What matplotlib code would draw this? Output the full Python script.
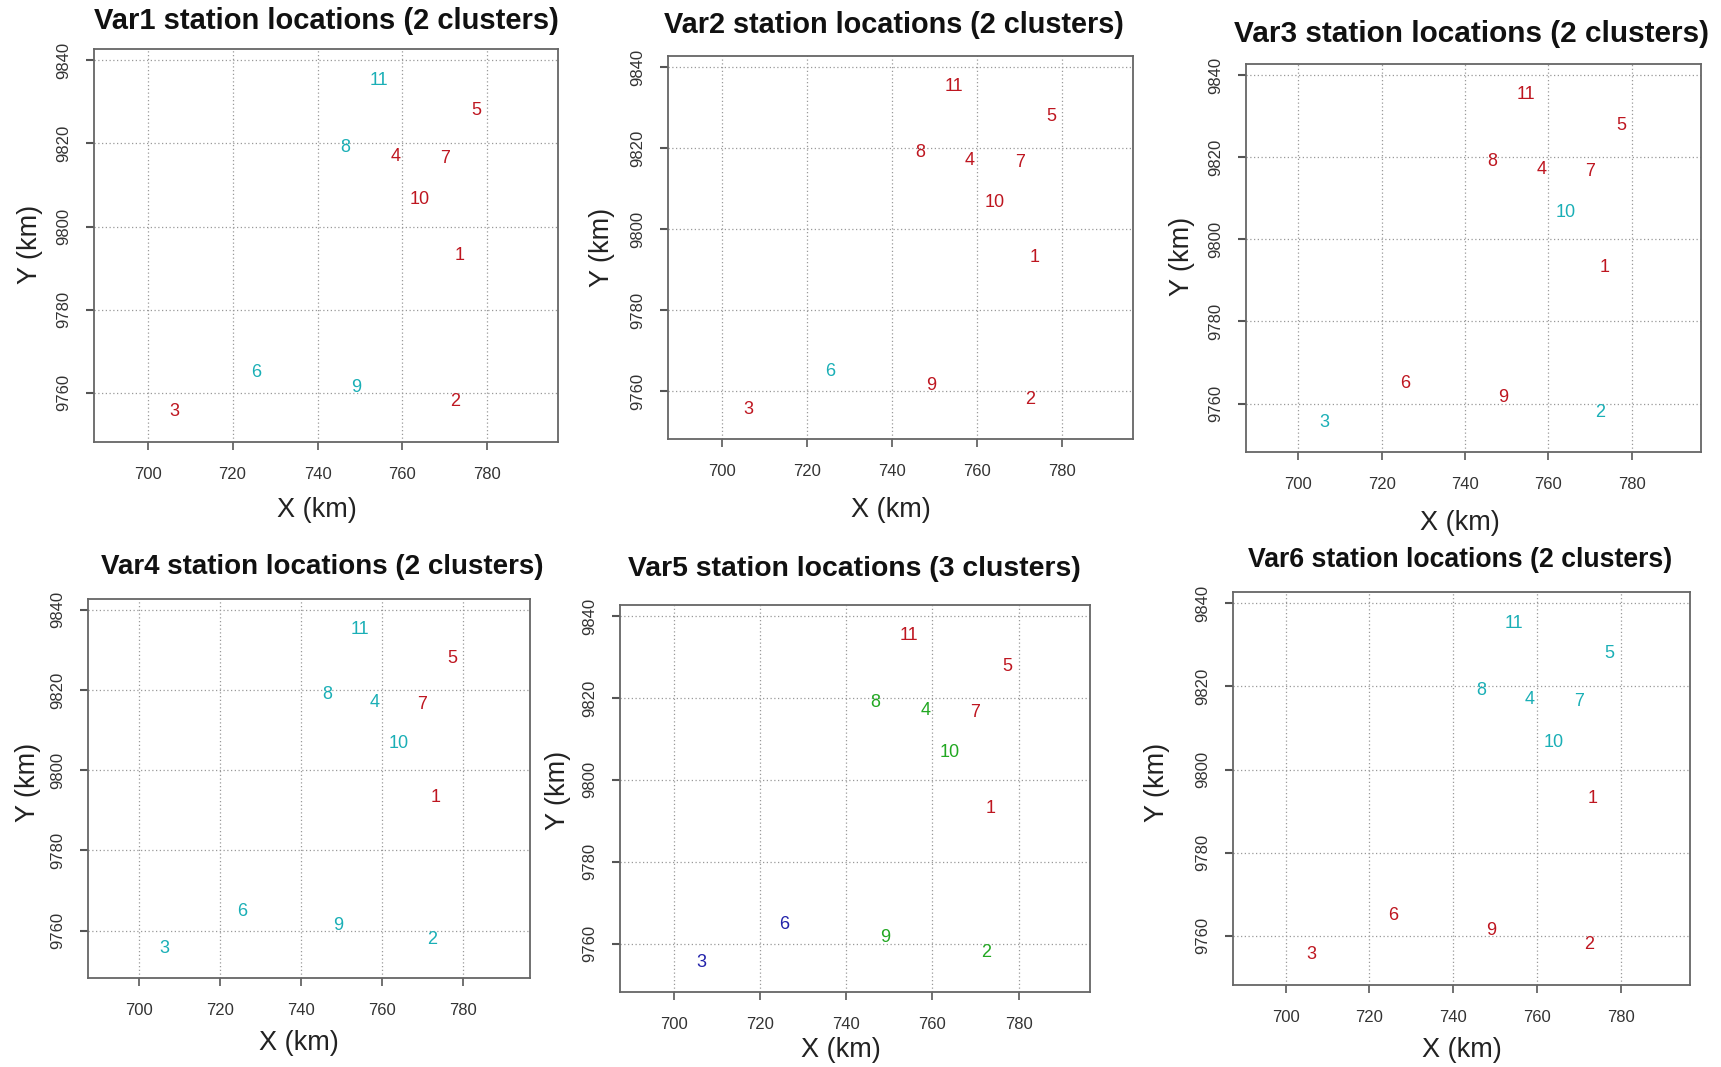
import matplotlib
matplotlib.use("Agg")
import matplotlib.pyplot as plt

plt.rcParams['font.family'] = ['Liberation Sans', 'DejaVu Sans']

# station coordinates (km)
stations = ['1', '2', '3', '4', '5', '6', '7', '8', '9', '10', '11']
x_km = [773.4, 772.4, 706.2, 758.3, 777.4, 725.6, 770.0, 746.6, 749.1, 764.1, 754.5]
y_km = [9793.1, 9757.9, 9755.5, 9816.9, 9827.8, 9764.8, 9816.4, 9818.9, 9761.4, 9806.6, 9835.2]

titles = ['Var1 station locations (2 clusters)', 'Var2 station locations (2 clusters)',
          'Var3 station locations (2 clusters)', 'Var4 station locations (2 clusters)',
          'Var5 station locations (3 clusters)', 'Var6 station locations (2 clusters)']

# cluster id per station (1 = red, 2 = cyan, 3 = green, 4 = blue)
var1 = [1, 1, 1, 1, 1, 2, 1, 2, 2, 1, 2]
var2 = [1, 1, 1, 1, 1, 2, 1, 1, 1, 1, 1]
var3 = [1, 2, 2, 1, 1, 1, 1, 1, 1, 2, 1]
var4 = [1, 2, 2, 2, 1, 2, 1, 2, 2, 2, 2]
var5 = [1, 3, 4, 3, 1, 4, 1, 3, 3, 3, 1]
var6 = [1, 1, 1, 2, 2, 1, 2, 2, 1, 2, 2]
clusters = [var1, var2, var3, var4, var5, var6]

xticks = [700, 720, 740, 760, 780]
yticks = [9760, 9780, 9800, 9820, 9840]

colors = {1: '#BE1620', 2: '#1AAFB6', 3: '#22A822', 4: '#2222AA'}

W, H = 1721, 1067
# axes boxes in pixels: left, top, right, bottom
boxes = [(94, 49, 558, 442),
         (668, 56, 1133, 439),
         (1246, 64, 1701, 452),
         (88, 599, 530, 978),
         (620, 605, 1090, 992),
         (1233, 592, 1690, 985)]
title_pos = [(326, 21), (894, 25), (1471, 34), (322, 567), (854, 569), (1460, 560)]
title_size = [21, 20.8, 21.4, 20, 20.4, 19.2]
xlab_pos = [(317, 510), (891, 510), (1460, 523), (299, 1043), (841, 1050), (1462, 1050)]
ylab_pos = [(30, 244), (602, 247), (1182, 256), (28, 782), (558, 790), (1157, 782)]

fig = plt.figure(figsize=(W / 100, H / 100), dpi=100)

for i in range(6):
    l, t, r, b = boxes[i]
    ax = fig.add_axes([l / W, 1 - b / H, (r - l) / W, (b - t) / H])
    ax.set_xlim(687.4, 796.6)
    ax.set_ylim(9748.2, 9842.7)
    ax.set_xticks(xticks)
    ax.set_yticks(yticks)
    ax.tick_params(axis='x', length=6, width=1.3, labelsize=12, colors='#666666',
                   labelcolor='#333333', pad=12)
    ax.tick_params(axis='y', length=6, width=1.5, labelsize=12, colors='#555555',
                   labelcolor='#333333', pad=10.5)
    for lab in ax.get_yticklabels():
        lab.set_rotation(90)
        lab.set_va('center')
    ax.grid(True, linestyle=(0, (1, 2)), color='#999999', linewidth=0.9)
    for s in ax.spines.values():
        s.set_color('#666666')
        s.set_linewidth(1.3)
    for name, xv, yv, c in zip(stations, x_km, y_km, clusters[i]):
        ax.text(xv, yv, name, color=colors[c], fontsize=13, ha='center', va='center')
    tx, ty = title_pos[i]
    fig.text(tx / W, 1 - ty / H, titles[i], ha='center', va='center',
             fontsize=title_size[i], fontweight='bold', color='#111111')
    xx, xy = xlab_pos[i]
    fig.text(xx / W, 1 - xy / H, 'X (km)', ha='center', va='center',
             fontsize=19.5, color='#222222')
    yx, yy = ylab_pos[i]
    fig.text(yx / W, 1 - yy / H, 'Y (km)', ha='center', va='center',
             fontsize=19.5, color='#222222', rotation=90)

fig.savefig('out.png', dpi=100, facecolor='white')
